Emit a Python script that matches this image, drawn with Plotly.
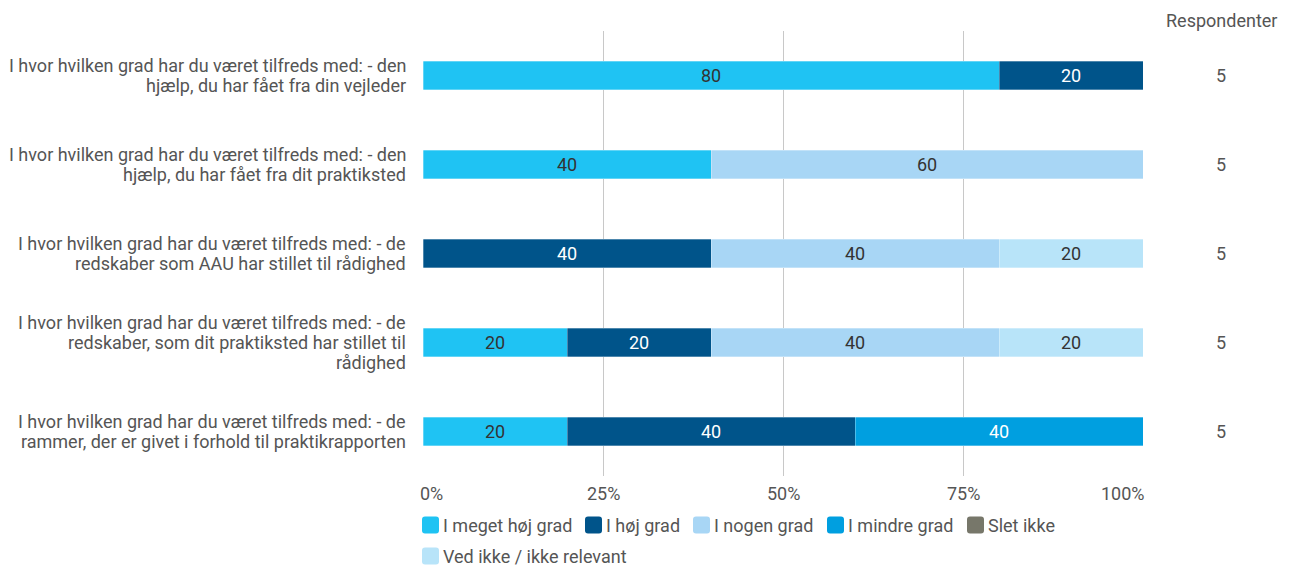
import plotly.graph_objects as go

categories = [
    "I hvor hvilken grad har du været tilfreds med: - den<br>hjælp, du har fået fra din vejleder",
    "I hvor hvilken grad har du været tilfreds med: - den<br>hjælp, du har fået fra dit praktiksted",
    "I hvor hvilken grad har du været tilfreds med: - de<br>redskaber som AAU har stillet til rådighed",
    "I hvor hvilken grad har du været tilfreds med: - de<br>redskaber, som dit praktiksted har stillet til<br>rådighed",
    "I hvor hvilken grad har du været tilfreds med: - de<br>rammer, der er givet i forhold til praktikrapporten",
]
series_names = ["I meget høj grad", "I høj grad", "I nogen grad", "I mindre grad", "Slet ikke",
                "Ved ikke / ikke relevant"]
meget_hoej = [80, 40, 0, 20, 20]
hoej = [20, 0, 40, 20, 40]
nogen = [0, 60, 40, 40, 0]
mindre = [0, 0, 0, 0, 40]
slet_ikke = [0, 0, 0, 0, 0]
ved_ikke = [0, 0, 20, 20, 0]
respondenter = [5, 5, 5, 5, 5]
tick_vals = [0, 25, 50, 75, 100]
tick_text = ["0%", "25%", "50%", "75%", "100%"]

colors = ["#1FC3F3", "#00548A", "#A8D6F5", "#009FE0", "#77776A", "#B8E4F9"]
text_colors = ["#333333", "#FFFFFF", "#333333", "#FFFFFF", "#FFFFFF", "#333333"]
values = [meget_hoej, hoej, nogen, mindre, slet_ikke, ved_ikke]

FONT = "Roboto, Arial, sans-serif"
FS = 18
GREY = "#555555"
W, H = 1289, 569
ML, MR, MT, MB = 423, 146, 31, 93
PW = W - ML - MR
PH = H - MT - MB
PLOT_BOTTOM = H - MB


def px2x(px):
    return (px - ML) / PW


def py2y(py):
    return (PLOT_BOTTOM - py) / PH


fig = go.Figure()
for i, (name, vals) in enumerate(zip(series_names, values)):
    fig.add_trace(go.Bar(
        y=categories, x=vals, name=name, orientation="h",
        marker=dict(color=colors[i], line=dict(color="rgba(255,255,255,0.6)", width=0.5)),
        text=[str(v) if v > 0 else "" for v in vals],
        textposition="inside", insidetextanchor="middle", textangle=0,
        constraintext="none",
        textfont=dict(color=text_colors[i], size=FS, family=FONT),
        width=0.315, showlegend=False,
        hoverinfo="skip",
    ))

# category labels (multi-line, tight spacing)
LINE_H = 20
for cat in categories:
    lines = cat.split("<br>")
    n = len(lines)
    for j, ln in enumerate(lines):
        fig.add_annotation(x=px2x(ML - 15), xref="paper", xanchor="right", y=cat, yref="y",
                           yanchor="middle", yshift=-(j - (n - 1) / 2) * LINE_H,
                           text=ln, showarrow=False,
                           font=dict(size=FS, color=GREY, family=FONT))

# x tick labels (end labels kept inside like the reference)
for k, (tv, tt) in enumerate(zip(tick_vals, tick_text)):
    if k == 0:
        anchor, xs = "left", -5
    elif k == len(tick_vals) - 1:
        anchor, xs = "right", 4
    else:
        anchor, xs = "center", 0
    fig.add_annotation(x=tv, xref="x", xanchor=anchor, xshift=xs, y=0, yref="paper",
                       yanchor="middle", yshift=-17, text=tt, showarrow=False,
                       font=dict(size=FS, color=GREY, family=FONT))

# respondents column
resp_x = px2x(1221)
for cat, r in zip(categories, respondenter):
    fig.add_annotation(x=resp_x, xref="paper", xanchor="center", y=cat, yref="y",
                       text=str(r), showarrow=False,
                       font=dict(size=FS, color=GREY, family=FONT))
fig.add_annotation(x=resp_x, xref="paper", xanchor="center", y=py2y(20),
                   yref="paper", yanchor="middle", text="Respondenter", showarrow=False,
                   font=dict(size=FS, color=GREY, family=FONT))

# legend (drawn manually to match two-row layout)
legend_left = [422, 585, 693, 827, 967, 422]
legend_row = [525, 525, 525, 525, 525, 556]
SW, R = 17, 3
for i, name in enumerate(series_names):
    x0, yc = legend_left[i], legend_row[i]
    x1 = x0 + SW
    y0, y1 = yc - SW / 2, yc + SW / 2
    path = (f"M {px2x(x0 + R)},{py2y(y0)} L {px2x(x1 - R)},{py2y(y0)} "
            f"Q {px2x(x1)},{py2y(y0)} {px2x(x1)},{py2y(y0 + R)} "
            f"L {px2x(x1)},{py2y(y1 - R)} Q {px2x(x1)},{py2y(y1)} {px2x(x1 - R)},{py2y(y1)} "
            f"L {px2x(x0 + R)},{py2y(y1)} Q {px2x(x0)},{py2y(y1)} {px2x(x0)},{py2y(y1 - R)} "
            f"L {px2x(x0)},{py2y(y0 + R)} Q {px2x(x0)},{py2y(y0)} {px2x(x0 + R)},{py2y(y0)} Z")
    fig.add_shape(type="path", path=path, xref="paper", yref="paper",
                  fillcolor=colors[i], line=dict(width=0), layer="above")
    fig.add_annotation(x=px2x(x1 + 3), xref="paper", xanchor="left", y=py2y(yc),
                       yref="paper", yanchor="middle", text=name, showarrow=False,
                       borderpad=0,
                       font=dict(size=FS, color=GREY, family=FONT))

fig.update_layout(
    barmode="stack",
    width=W, height=H,
    margin=dict(l=ML, r=MR, t=MT, b=MB),
    plot_bgcolor="white", paper_bgcolor="white",
    font=dict(family=FONT, size=FS, color=GREY),
    xaxis=dict(range=[0, 100], tickvals=tick_vals, showticklabels=False, showgrid=True,
               gridcolor="#C8C8C8", gridwidth=1, zeroline=False, showline=False,
               ticks="", fixedrange=True),
    yaxis=dict(autorange="reversed", showgrid=False, ticks="", showticklabels=False,
               showline=False, fixedrange=True),
    showlegend=False,
)
fig.write_html("out.html", config={"displayModeBar": False},
               post_script="document.body.style.margin='0';")
